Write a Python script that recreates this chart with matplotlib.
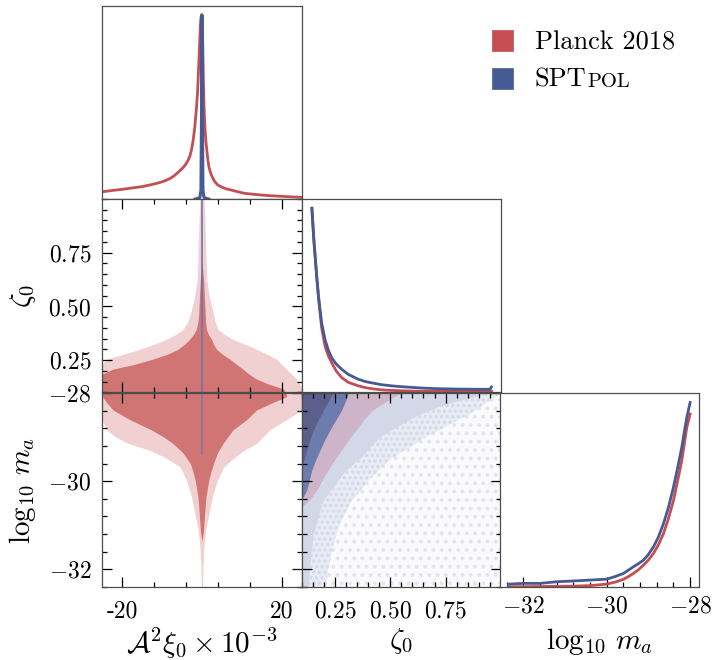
import numpy as np
import matplotlib
matplotlib.use('Agg')
import matplotlib.pyplot as plt
from matplotlib.patches import Rectangle
from matplotlib.ticker import FixedLocator, NullLocator

plt.rcParams.update({
    'font.family': 'serif', 'font.serif': ['cmr10'], 'mathtext.fontset': 'cm',
    'axes.unicode_minus': False, 'axes.formatter.use_mathtext': True,
    'hatch.linewidth': 1.6,
})

# ---------------- data ----------------
RED = '#c44e52'
BLUE = '#465a93'

# 1D marginal: A^2 xi_0 x 1e-3
A_red_x = [-25, -22, -20, -17, -15, -13, -11.4, -10, -9, -8, -7, -6, -5, -4.2, -3.5, -3.0, -2.6,
           -2.2, -1.8, -1.4, -1.1, -0.8, -0.55, -0.38, -0.25, -0.1, 0.05, 0.2, 0.35, 0.5, 0.65,
           0.8, 1.0, 1.2, 1.5, 1.8, 2.2, 2.6, 3.2, 4.0, 5.0, 6.0, 7.4, 9, 10.75, 13, 15, 17.5,
           20, 22.5, 25]
A_red_pdf = [0.040, 0.048, 0.053, 0.062, 0.068, 0.077, 0.085, 0.094, 0.102, 0.112, 0.126, 0.145,
             0.165, 0.185, 0.21, 0.235, 0.27, 0.32, 0.39, 0.49, 0.58, 0.73, 0.86, 0.95, 0.985,
             1.0, 0.97, 0.84, 0.66, 0.52, 0.43, 0.37, 0.31, 0.27, 0.21, 0.17, 0.14, 0.12, 0.095,
             0.076, 0.065, 0.056, 0.049, 0.040, 0.031, 0.026, 0.022, 0.018, 0.015, 0.012, 0.010]
A_blue_x = [-1.75, -1.0, -0.5, -0.25, -0.1, 0.0, 0.1, 0.25, 0.5, 1.0, 1.75]
A_blue_pdf = [0.0, 0.004, 0.01, 0.05, 0.5, 1.0, 0.5, 0.05, 0.01, 0.004, 0.0]

# 1D marginal: zeta_0
zeta_x = [0.146, 0.150, 0.155, 0.161, 0.168, 0.176, 0.183, 0.19, 0.198, 0.205, 0.22, 0.235,
          0.255, 0.28, 0.31, 0.354, 0.39, 0.429, 0.46, 0.503, 0.55, 0.6, 0.652, 0.72, 0.801,
          0.88, 0.95, 0.957]
zeta_blue = [1.0, 0.92, 0.83, 0.738, 0.63, 0.522, 0.45, 0.378, 0.33, 0.288, 0.23, 0.189, 0.155,
             0.126, 0.098, 0.072, 0.058, 0.049, 0.042, 0.036, 0.031, 0.027, 0.023, 0.020, 0.018,
             0.017, 0.017, 0.03]
zeta_red = [1.0, 0.92, 0.82, 0.73, 0.62, 0.51, 0.43, 0.351, 0.30, 0.252, 0.2, 0.162, 0.118,
            0.081, 0.055, 0.036, 0.025, 0.018, 0.014, 0.011, 0.009, 0.007, 0.006, 0.006, 0.006,
            0.006, 0.006, 0.006]

# 1D marginal: log10 m_a
logm_x = [-32.36, -32.0, -31.6, -31.2, -30.8, -30.4, -30.0, -29.8, -29.6, -29.48, -29.36, -29.24,
          -29.12, -29.0, -28.88, -28.76, -28.64, -28.52, -28.4, -28.3, -28.2, -28.14, -28.08, -28.0]
logm_blue = [0.014, 0.018, 0.018, 0.027, 0.031, 0.036, 0.041, 0.055, 0.072, 0.09, 0.108, 0.125,
             0.144, 0.175, 0.216, 0.27, 0.342, 0.43, 0.54, 0.645, 0.757, 0.84, 0.919, 1.0]
logm_red = [0.0, 0.0, 0.001, 0.002, 0.003, 0.006, 0.014, 0.025, 0.04, 0.055, 0.072, 0.092,
            0.117, 0.145, 0.18, 0.228, 0.288, 0.37, 0.468, 0.575, 0.685, 0.775, 0.865, 0.937]

# 2D: zeta_0 vs A (Planck contours: boundaries per zeta level)
zA_dark_lvl = [0.10, 0.116, 0.14, 0.162, 0.185, 0.208, 0.23, 0.255, 0.278, 0.301, 0.325, 0.347,
               0.37, 0.394, 0.43, 0.47, 0.55, 0.625, 0.70]
zA_dark_lo = [-25, -25, -25, -25, -25, -22.4, -17, -12.3, -8.6, -6, -4.3, -3.1, -2.1, -1.4,
              -1.0, -0.8, -0.6, -0.4, -0.05]
zA_dark_hi = [21, 20.5, 16.5, 13.7, 11.8, 10.3, 8.7, 7, 5.1, 3.6, 2.9, 2.4, 1.6, 1.1, 0.9, 0.8,
              0.6, 0.4, 0.05]
zA_light_lvl = [0.10, 0.116, 0.14, 0.162, 0.185, 0.208, 0.23, 0.255, 0.278, 0.301, 0.325, 0.347,
                0.37, 0.394, 0.43, 0.47, 0.55, 0.625, 0.72, 0.80, 0.934, 1.0]
zA_light_lo = [-25, -25, -25, -25, -25, -25, -25, -24, -19.5, -15.6, -11.8, -8.9, -6.5, -4.7,
               -3.5, -2.8, -1.8, -1.2, -1.0, -0.9, -0.67, -0.5]
zA_light_hi = [25, 25, 24.5, 23.7, 22.5, 21.2, 20, 18.7, 16.3, 13.7, 10.6, 7.8, 5.6, 4.0, 3.3,
               2.8, 1.8, 1.2, 1.0, 0.9, 0.67, 0.5]

# 2D: log m_a vs A
mA_dark_lvl = [-28.0, -28.08, -28.2, -28.38, -28.6, -28.83, -29.0, -29.14, -29.35, -29.6, -29.8,
               -29.98, -30.36, -30.74, -31.04, -31.2, -31.34]
mA_dark_lo = [-25, -25, -24, -22.3, -18.1, -12.7, -9.5, -7.3, -4.8, -2.9, -2.2, -1.7, -1.0,
              -0.67, -0.45, -0.3, -0.05]
mA_dark_hi = [21.2, 21.2, 18, 13.7, 11.2, 7.8, 6.4, 5.3, 3.9, 2.9, 2.2, 1.7, 1.0, 0.67, 0.45,
              0.3, 0.05]
mA_light_lvl = [-28.0, -28.38, -28.6, -28.83, -29.0, -29.14, -29.3, -29.45, -29.67, -29.98,
                -30.36, -30.74, -31.12, -31.5, -31.95, -32.3, -32.4]
mA_light_lo = [-25, -25, -25, -24, -21.5, -18.5, -13, -9.5, -5.5, -3.85, -2.6, -1.76, -0.92,
               -0.5, -0.25, -0.17, -0.1]
mA_light_hi = [25, 25, 21.2, 17, 15.2, 13.7, 10.5, 8.3, 5.5, 3.85, 2.6, 1.76, 0.92, 0.5, 0.25,
               0.17, 0.1]
# SPTpol narrow band in A
spt_A_halfwidth = 0.2
spt_mA_bottom = -29.4

# 2D: log m_a vs zeta_0 (outer boundary: zeta value at each log m level)
mz_dark_lvl = [-28.0, -28.2, -28.38, -28.6, -28.83, -29.05, -29.29, -29.5, -29.67]
mz_dark_z = [0.24, 0.218, 0.198, 0.175, 0.153, 0.137, 0.123, 0.111, 0.1]
mz_mid_lvl = [-28.0, -28.2, -28.38, -28.6, -28.83, -29.05, -29.29, -29.5, -29.74, -30.0, -30.2, -30.42]
mz_mid_z = [0.31, 0.296, 0.28, 0.255, 0.228, 0.205, 0.183, 0.164, 0.146, 0.133, 0.123, 0.1]
mz_pink_lvl = [-28.0, -28.1, -28.25, -28.38, -28.6, -28.83, -29.05, -29.29, -29.5, -29.74,
               -30.0, -30.2, -30.4, -30.58]
mz_pink_z = [0.55, 0.51, 0.46, 0.421, 0.38, 0.347, 0.312, 0.28, 0.25, 0.22, 0.19, 0.168, 0.14, 0.1]
mz_light_lvl = [-28.0, -28.15, -28.3, -28.5, -28.7, -29.0, -29.44, -29.74, -30.2, -30.5, -31.26,
                -32.0, -32.4]
mz_light_z = [0.95, 0.82, 0.72, 0.62, 0.55, 0.45, 0.37, 0.3, 0.23, 0.19, 0.15, 0.135, 0.13]
mz_speck_lvl = [-28.0, -28.5, -29.0, -29.5, -30.0, -30.5, -31.0, -31.5, -32.0, -32.4]
mz_speck_z = [1.0, 0.85, 0.66, 0.5, 0.4, 0.32, 0.27, 0.24, 0.22, 0.21]

labels = ['Planck 2018', 'SPT']

# ---------------- layout ----------------
W, H = 714, 660
fig = plt.figure(figsize=(W / 100, H / 100), dpi=100)
col_x = [102.3, 301.7, 500.0]
col_w = 199.3
row_y = [5.7, 199.0, 393.3]
row_h = 193.4

XLIM = [(-25, 25), (0.1, 1.0), (-32.56, -27.78)]
YLIM = {1: (0.1, 1.0), 2: (-32.4, -28.0)}
SPINE = '#4d4d4d'
TICK_FS = 17
LAB_FS = 21


def add(r, c):
    ax = fig.add_axes([col_x[c] / W, 1 - (row_y[r] + row_h) / H, col_w / W, row_h / H])
    for s in ax.spines.values():
        s.set_color(SPINE)
        s.set_linewidth(0.9)
    ax.set_xlim(*XLIM[c])
    if r == c:
        ax.set_ylim(0, 1.05)
    else:
        ax.set_ylim(*YLIM[r])
    return ax


xmaj = [[-20, 20], [0.25, 0.5, 0.75], [-32, -30, -28]]
xmin = [[-12, -4, 4, 12], list(np.arange(0.1, 1.001, 0.05)), list(np.arange(-32.4, -27.95, 0.4))]
xlab = [['-20', '20'], ['$0.25$', '$0.50$', '$0.75$'], ['$-32$', '$-30$', '$-28$']]
ymaj = {1: [0.25, 0.5, 0.75], 2: [-32, -30, -28]}
ymin = {1: list(np.arange(0.1, 1.001, 0.05)), 2: list(np.arange(-32.4, -27.95, 0.4))}
ylab = {1: ['$0.25$', '$0.50$', '$0.75$'], 2: ['$-32$', '$-30$', '$-28$']}

axes = {}
for r in range(3):
    for c in range(r + 1):
        ax = add(r, c)
        axes[(r, c)] = ax
        if r == c and r < 2:
            ax.xaxis.set_major_locator(NullLocator())
            ax.yaxis.set_major_locator(NullLocator())
            continue
        ax.tick_params(which='both', direction='in', colors='black', width=0.9)
        ax.tick_params(which='major', length=7.5)
        ax.tick_params(which='minor', length=3.8)
        ax.xaxis.set_major_locator(FixedLocator(xmaj[c]))
        ax.xaxis.set_minor_locator(FixedLocator(xmin[c]))
        if r == c:
            ax.yaxis.set_major_locator(NullLocator())
            ax.tick_params(which='both', top=False, left=False, right=False, bottom=True)
        else:
            ax.tick_params(which='both', top=True, right=True, left=True, bottom=True)
            ax.yaxis.set_major_locator(FixedLocator(ymaj[r]))
            ax.yaxis.set_minor_locator(FixedLocator(ymin[r]))
        if r == 2:
            ax.set_xticklabels(xlab[c], fontsize=TICK_FS)
            ax.tick_params(axis='x', which='major', pad=10 if c < 2 else 6)
        else:
            ax.set_xticklabels([])
        if c == 0 and r > 0:
            ax.set_yticklabels(ylab[r], fontsize=TICK_FS)
            ax.tick_params(axis='y', which='major', pad=8)
        else:
            ax.set_yticklabels([])

# ---- diagonal 1D ----
ax = axes[(0, 0)]
ax.plot(A_red_x, A_red_pdf, color=RED, lw=2.0)
ax.plot(A_blue_x, A_blue_pdf, color=BLUE, lw=2.2)

ax = axes[(1, 1)]
ax.plot(zeta_x, zeta_red, color=RED, lw=2.0)
ax.plot(zeta_x, zeta_blue, color=BLUE, lw=2.0)

ax = axes[(2, 2)]
ax.plot(logm_x, logm_red, color=RED, lw=2.0)
ax.plot(logm_x, logm_blue, color=BLUE, lw=2.0)

# ---- 2D: zeta vs A ----
ax = axes[(1, 0)]
ax.fill_betweenx(zA_light_lvl, zA_light_lo, zA_light_hi, color='#f0d0d0', lw=0)
ax.fill_betweenx(zA_dark_lvl, zA_dark_lo, zA_dark_hi, color='#d07474', lw=0)
ax.fill_betweenx(YLIM[1], -spt_A_halfwidth, spt_A_halfwidth, color='#6b74a8', alpha=0.8, lw=0)

# ---- 2D: log m vs A ----
ax = axes[(2, 0)]
ax.fill_betweenx(mA_light_lvl, mA_light_lo, mA_light_hi, color='#f0d0d0', lw=0)
ax.fill_betweenx(mA_dark_lvl, mA_dark_lo, mA_dark_hi, color='#d07474', lw=0)
ax.fill_betweenx([-28.0, spt_mA_bottom], -spt_A_halfwidth, spt_A_halfwidth, color='#6b74a8', alpha=0.6, lw=0)

# ---- 2D: log m vs zeta ----
ax = axes[(2, 1)]
ax.fill_betweenx(YLIM[2], 0.1, 1.0, facecolor='#fbfbfd', edgecolor='#e2e5f0', hatch='..', lw=0)
ax.fill_betweenx(mz_speck_lvl, 0.1, mz_speck_z, facecolor='#e9ecf4', edgecolor='#d3d8e8', hatch='...', lw=0)
ax.fill_betweenx(mz_light_lvl, 0.1, mz_light_z, color='#d3d8e8', lw=0)
ax.fill_betweenx(mz_pink_lvl, 0.1, mz_pink_z, color='#cdb4c8', lw=0)
ax.fill_betweenx(mz_mid_lvl, 0.1, mz_mid_z, color='#6c7cac', lw=0)
ax.fill_betweenx(mz_dark_lvl, 0.1, mz_dark_z, color='#5c5e8c', lw=0)

# ---- axis labels ----
axes[(1, 0)].set_ylabel(r'$\zeta_0$', fontsize=LAB_FS)
axes[(2, 0)].set_ylabel(r'$\log_{10}\,m_a$', fontsize=LAB_FS)
axes[(1, 0)].yaxis.set_label_coords(-0.323, 0.5)
axes[(2, 0)].yaxis.set_label_coords(-0.323, 0.5)
axes[(2, 0)].set_xlabel(r'$\mathcal{A}^2\xi_0\times 10^{-3}$', fontsize=LAB_FS)
axes[(2, 1)].set_xlabel(r'$\zeta_0$', fontsize=LAB_FS)
axes[(2, 2)].set_xlabel(r'$\log_{10}\,m_a$', fontsize=LAB_FS)
for c in range(3):
    axes[(2, c)].xaxis.set_label_coords(0.5, -0.203)

# ---- legend (manual) ----
LEG_FS = 19
for i, (col, lab) in enumerate(zip([RED, BLUE], labels)):
    ytop = [30, 68][i]
    fig.add_artist(Rectangle((492 / W, 1 - (ytop + 21) / H), 21 / W, 21 / H,
                             transform=fig.transFigure, facecolor=col, edgecolor=col, lw=0.5))
    base = [49.3, 86.7][i]
    t = fig.text(535 / W, 1 - base / H, lab, fontsize=LEG_FS, va='baseline', ha='left')
    if i == 1:
        fig.canvas.draw()
        bb = t.get_window_extent()
        fig.text(bb.x1 / W + 0.5 / W, 1 - base / H, 'POL', fontsize=LEG_FS * 0.78,
                 va='baseline', ha='left')

fig.savefig('out.png', dpi=100)
